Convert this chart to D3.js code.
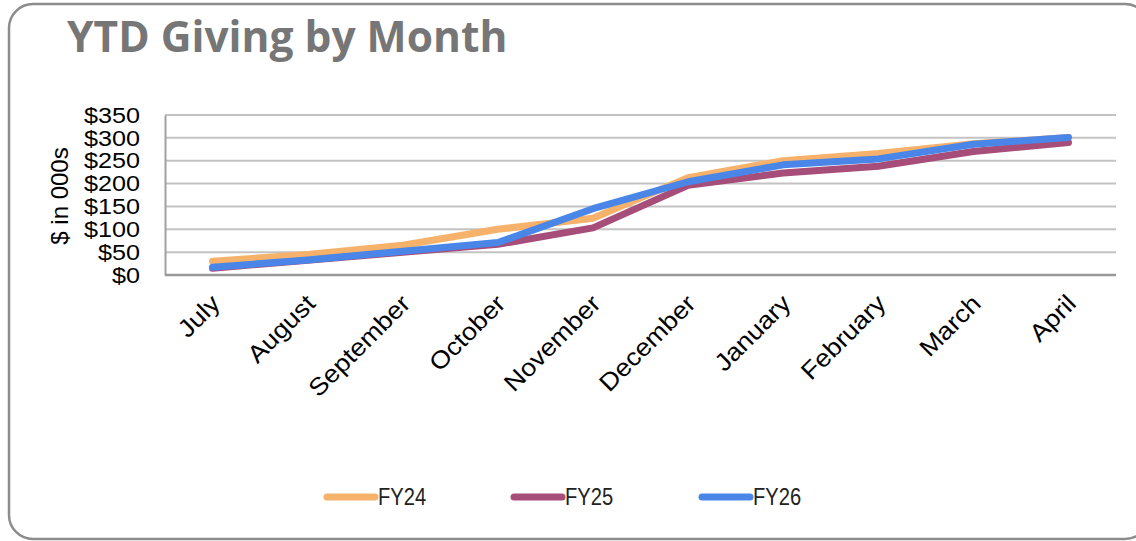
<!DOCTYPE html>
<html>
<head>
<meta charset="utf-8">
<script src="https://cdn.jsdelivr.net/npm/d3@7"></script>
<style>
  body { margin: 0; background: #fff; }
  svg text { font-family: "Liberation Sans", Arial, sans-serif; }
</style>
</head>
<body>
<svg width="1136" height="541"></svg>
<script>
// data
const months = ['July', 'August', 'September', 'October', 'November', 'December', 'January', 'February', 'March', 'April'];
const fy24 = [30, 45, 65, 100, 124, 213, 250, 266, 287, 301];
const fy25 = [15, 32, 50, 67, 103, 196, 223, 238, 270, 290];
const fy26 = [17, 33, 52, 71, 145, 204, 241, 254, 286, 301];
const yTicks = [0, 50, 100, 150, 200, 250, 300, 350];
const seriesNames = ['FY24', 'FY25', 'FY26'];
const seriesColors = ['#F6B26B', '#A64D79', '#4A86E8'];

const svg = d3.select('svg');
const plotLeft = 165, plotRight = 1116, plotTop = 115, plotBottom = 275;

// frame
svg.append('rect')
  .attr('x', 9).attr('y', 4)
  .attr('width', 1140).attr('height', 535)
  .attr('rx', 24).attr('ry', 24)
  .attr('fill', 'none')
  .attr('stroke', '#8c8c8c')
  .attr('stroke-width', 2.5);

svg.append('text')
  .attr('x', 67).attr('y', 52)
  .attr('font-size', '42.5px')
  .attr('font-weight', 'bold')
  .attr('fill', '#767676')
  .style('font-family', '"Open Sans", sans-serif')
  .text('YTD Giving by Month');

const xScale = d3.scalePoint()
  .domain(months)
  .range([plotLeft, plotRight])
  .padding(0.5);

const yScale = d3.scaleLinear()
  .domain([0, 350])
  .range([plotBottom, plotTop]);

// gridlines
svg.append('g')
  .selectAll('line')
  .data(yTicks.slice(1))
  .enter()
  .append('line')
  .attr('x1', plotLeft).attr('x2', plotRight)
  .attr('y1', d => yScale(d)).attr('y2', d => yScale(d))
  .attr('stroke', '#c3c3c3')
  .attr('stroke-width', 2);

// y axis
const yAxis = svg.append('g')
  .attr('transform', `translate(${plotLeft},0)`)
  .call(d3.axisLeft(yScale).tickValues(yTicks).tickSize(0).tickPadding(25).tickFormat(d => '$' + d));
yAxis.select('.domain').attr('stroke', '#a0a0a0').attr('stroke-width', 2);
yAxis.selectAll('text')
  .attr('x', 0)
  .attr('transform', 'translate(-25,0) scale(1.12,1)')
  .attr('font-size', '22.5px').attr('fill', '#000')
  .style('font-family', '"Liberation Sans", Arial, sans-serif');

// x axis
const xAxis = svg.append('g')
  .attr('transform', `translate(0,${plotBottom})`)
  .call(d3.axisBottom(xScale).tickSize(0).tickFormat(''));
xAxis.select('.domain').attr('d', `M${plotLeft},0H${plotRight}`).attr('stroke', '#999').attr('stroke-width', 2.5);

svg.append('g')
  .selectAll('text')
  .data(months)
  .enter()
  .append('text')
  .attr('transform', d => `translate(${xScale(d) + 3},${plotBottom + 24}) rotate(-45) scale(1.1,1)`)
  .attr('text-anchor', 'end')
  .attr('dy', '0.35em')
  .attr('font-size', '24.5px')
  .text(d => d);

// y title
svg.append('text')
  .attr('transform', `translate(68,${(plotTop + plotBottom) / 2 + 1}) rotate(-90)`)
  .attr('text-anchor', 'middle')
  .attr('font-size', '24px')
  .text('$ in 000s');

// lines
const series = [fy24, fy25, fy26];
const line = d3.line()
  .x((d, i) => xScale(months[i]))
  .y(d => yScale(d));

svg.append('g')
  .selectAll('path')
  .data(series)
  .enter()
  .append('path')
  .attr('d', line)
  .attr('fill', 'none')
  .attr('stroke', (d, i) => seriesColors[i])
  .attr('stroke-width', 7)
  .attr('stroke-linecap', 'round')
  .attr('stroke-linejoin', 'round');

// legend
const legendX = [327, 514, 702];
const legend = svg.append('g')
  .selectAll('g')
  .data(seriesNames)
  .enter()
  .append('g')
  .attr('transform', (d, i) => `translate(${legendX[i]},497)`);
legend.append('line')
  .attr('x1', 0).attr('x2', 48)
  .attr('stroke', (d, i) => seriesColors[i])
  .attr('stroke-width', 7)
  .attr('stroke-linecap', 'round');
legend.append('text')
  .attr('transform', 'translate(51,0) scale(0.84,1)')
  .attr('dy', '0.35em')
  .attr('font-size', '24px')
  .attr('fill', '#222')
  .text(d => d);
</script>
</body>
</html>
